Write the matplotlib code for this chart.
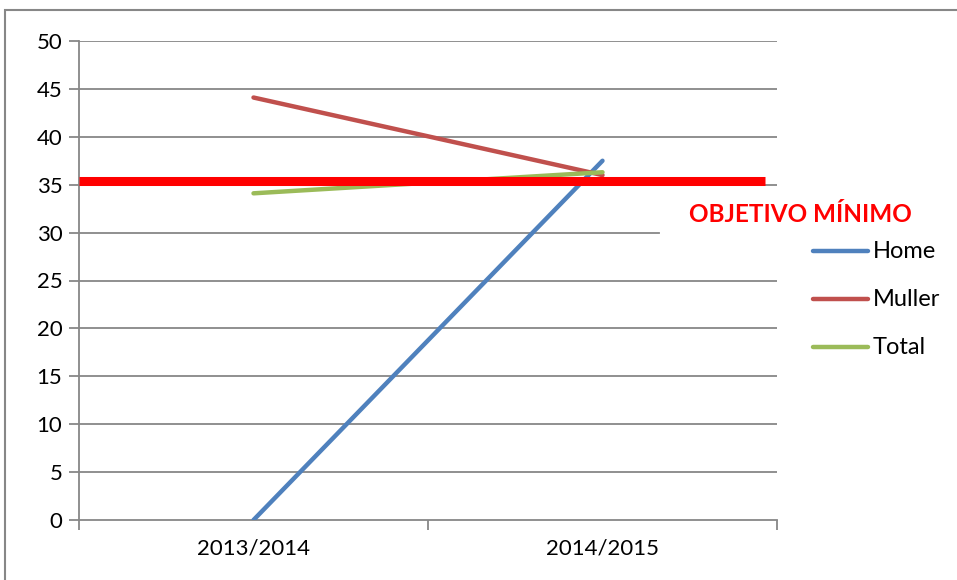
import matplotlib
matplotlib.use("Agg")
import matplotlib.pyplot as plt
from matplotlib.patches import Rectangle
from matplotlib.lines import Line2D

categories = ["2013/2014", "2014/2015"]
home = [0, 37.5]
muller = [44.1, 36.0]
total = [34.1, 36.3]
objetivo = 35.4
yticks = [0, 5, 10, 15, 20, 25, 30, 35, 40, 45, 50]
series_names = ["Home", "Muller", "Total"]
colors = ["#4F81BD", "#C0504D", "#9BBB59"]

W, H = 957, 580
fig = plt.figure(figsize=(W / 100, H / 100), dpi=100)
plt.rcParams['font.family'] = ['Lato', 'DejaVu Sans']

# outer border
fig.patches.append(Rectangle((5 / W, -0.05), 1.1, 1 - 10 / H + 0.05, transform=fig.transFigure,
                             fill=False, edgecolor="#878787", linewidth=1.5))

left, right, bottom, top = 79 / W, 777 / W, 1 - 520 / H, 1 - 41 / H
ax = fig.add_axes([left, bottom, right - left, top - bottom])
ax.set_xlim(-0.5, 1.5)
ax.set_ylim(0, 50)
for s in ["top", "right"]:
    ax.spines[s].set_visible(False)
for s in ["left", "bottom"]:
    ax.spines[s].set_color("#878787")
    ax.spines[s].set_linewidth(1.3)

grid_c = "#878787"
for v in yticks[1:]:
    xmax = (659 - 79) / (777 - 79) if v == 30 else 1.0
    ax.axhline(v, xmin=0, xmax=xmax, color=grid_c, linewidth=1.3, zorder=1)

ax.set_yticks(yticks)
ax.set_yticklabels([str(v) for v in yticks], fontsize=16)
ax.tick_params(axis="y", direction="out", length=7, color=grid_c, width=1.3, pad=5)

ax.set_xticks([-0.5, 0.5, 1.5])
ax.set_xticklabels([])
ax.set_xticks([0, 1], minor=True)
ax.set_xticklabels(categories, minor=True, fontsize=16)
ax.tick_params(axis="x", which="major", direction="out", length=7, color=grid_c, width=1.3)
ax.tick_params(axis="x", which="minor", length=0, pad=13)

x = [0, 1]
for vals, c, name in zip([home, muller, total], colors, series_names):
    ax.plot(x, vals, color=c, linewidth=3.2, solid_capstyle="round", zorder=3, label=name)

ax.axhline(objetivo, xmin=0, xmax=(765 - 79) / (777 - 79), color="#FF0000", linewidth=6.5,
           zorder=4, solid_capstyle="butt")

fig.text(689 / W, 1 - 215 / H, "OBJETIVO MÍNIMO", color="#FF0000", fontsize=17.5,
         fontweight="bold", va="center", ha="left")

for i, (c, name) in enumerate(zip(colors, series_names)):
    yy = 1 - (251 + 48 * i) / H
    fig.add_artist(Line2D([813 / W, 868 / W], [yy, yy], transform=fig.transFigure, color=c,
                          linewidth=3.2, solid_capstyle="round"))
    fig.text(873 / W, yy, name, fontsize=17, va="center", ha="left")

fig.savefig("out.png", dpi=100)
